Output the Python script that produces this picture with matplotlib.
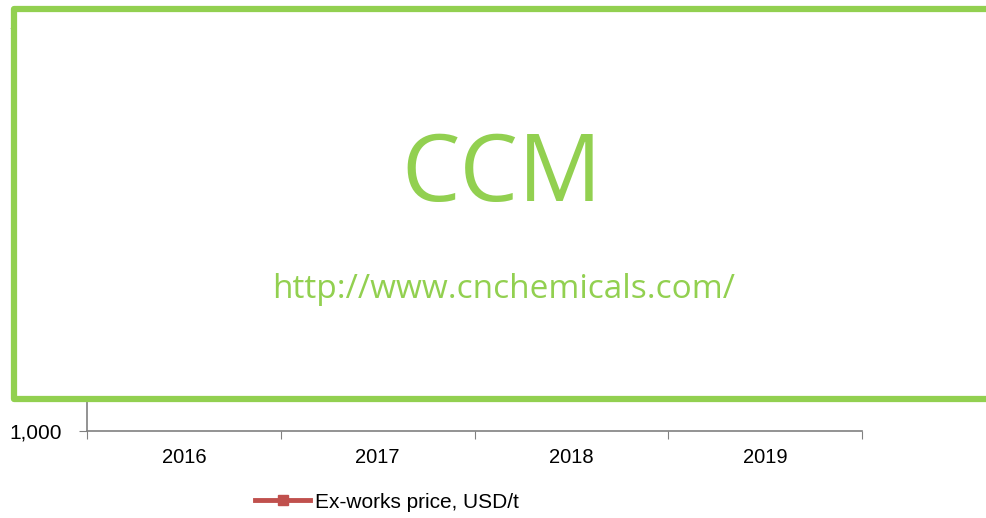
import matplotlib
matplotlib.use("Agg")
import matplotlib.pyplot as plt
from matplotlib.patches import Rectangle
from matplotlib.lines import Line2D

# Data (the series is hidden behind the watermark in the reference; values estimated)
years = ["2016", "2017", "2018", "2019"]
prices = [1650, 1600, 1700, 1900, 2200, 2450, 2600, 2500,
          2350, 2250, 2150, 2050, 1950, 1900, 1850, 1800]
y_ticks = [1000, 1200, 1400, 1600, 1800, 2000, 2200, 2400, 2600, 2800, 3000]
series_name = "Ex-works price, USD/t"

W, H = 986, 518
fig = plt.figure(figsize=(W / 100, H / 100), dpi=100)
ax = fig.add_axes([87 / W, (H - 431) / H, (862 - 87) / W, (431 - 24) / H])

n = len(prices)
xs = [0.125 + i * 0.25 for i in range(n)]
ax.plot(xs, prices, color="#C0504D", lw=2.5, marker="s", ms=5, zorder=3)
ax.set_xlim(0, len(years))
ax.set_ylim(y_ticks[0], y_ticks[-1])
ax.set_yticks(y_ticks)
ax.set_yticklabels([f"{v:,}" for v in y_ticks], fontsize=15, family="Liberation Sans")
ax.set_xticks(range(len(years) + 1))
ax.set_xticklabels([])
ax.set_xticks([i + 0.5 for i in range(len(years))], minor=True)
ax.set_xticklabels(years, minor=True, fontsize=14.5, family="Liberation Sans")
ax.tick_params(axis="x", which="minor", length=0, pad=12)
ax.tick_params(axis="x", which="major", length=6, color="#808080", direction="out")
ax.tick_params(axis="y", length=6, color="#808080", pad=12)
for s in ["top", "right"]:
    ax.spines[s].set_visible(False)
for s in ["left", "bottom"]:
    ax.spines[s].set_color("#808080")
    ax.spines[s].set_linewidth(1.2)

# Legend
leg_handle = Line2D([], [], color="#C0504D", lw=3.5, marker="s", ms=7)
fig.legend([leg_handle], [series_name], loc="center left",
           bbox_to_anchor=(255 / W, (H - 502) / H), borderaxespad=0, borderpad=0,
           frameon=False, prop={"family": "Liberation Sans", "size": 15},
           handlelength=2.65, handletextpad=0.25)

# Watermark box
box = Rectangle((14 / W, (H - 398.5) / H), (W + 20 - 14) / W, (398.5 - 9) / H,
                transform=fig.transFigure, facecolor="white", edgecolor="#92D050",
                lw=4.5, zorder=10, joinstyle="round")
fig.patches.append(box)
fig.text(502 / W, (H - 201) / H, "CCM", color="#92D050", fontsize=67, family="Open Sans",
         ha="center", va="baseline", zorder=11)
fig.text(504 / W, (H - 298) / H, "http://www.cnchemicals.com/", color="#92D050", fontsize=24,
         family="Open Sans", ha="center", va="baseline", zorder=11)

fig.savefig("out.png", dpi=100)
